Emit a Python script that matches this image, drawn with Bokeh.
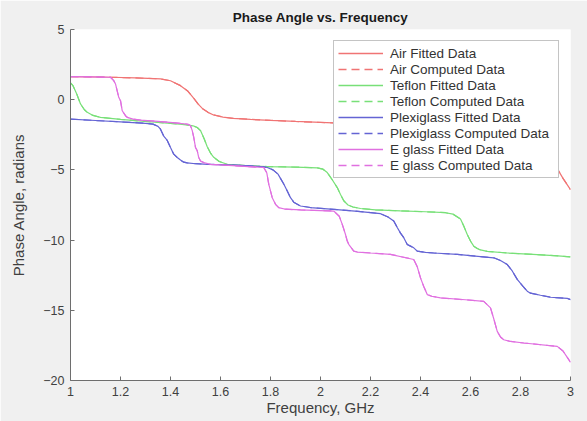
from bokeh.plotting import figure
from bokeh.models import Range1d, FixedTicker, CustomJSTickFormatter, Legend, LegendItem
from bokeh.embed import file_html
from bokeh.resources import INLINE

# ---------------- data ----------------
air_x = [1.0, 1.08, 1.16, 1.26, 1.36, 1.40, 1.44, 1.47, 1.49, 1.51, 1.53, 1.55, 1.57,
         1.61, 1.65, 1.72, 1.80, 1.90, 2.05, 2.2, 2.4, 2.6, 2.8, 2.88, 2.92, 2.95, 2.97, 3.0]
air_y = [1.64, 1.63, 1.6, 1.55, 1.48, 1.35, 1.0, 0.6, 0.17, -0.3, -0.67, -0.9, -1.07,
         -1.24, -1.33, -1.4, -1.47, -1.55, -1.65, -1.72, -1.8, -1.9, -2.1, -2.5, -3.3, -5.0, -5.6, -6.4]

teflon_x = [1.0, 1.01, 1.025, 1.04, 1.055, 1.067, 1.09, 1.12, 1.2, 1.3, 1.4, 1.46, 1.49,
            1.507, 1.52, 1.535, 1.547, 1.56, 1.573, 1.595, 1.627, 1.7, 1.787, 1.9, 1.987,
            2.01, 2.027, 2.047, 2.067, 2.08, 2.093, 2.11, 2.13, 2.16, 2.22, 2.32, 2.42,
            2.5, 2.53, 2.56, 2.573, 2.587, 2.6, 2.613, 2.627, 2.64, 2.667, 2.747, 2.85, 2.95, 3.0]
teflon_y = [1.2, 1.0, 0.4, -0.3, -0.7, -0.9, -1.12, -1.26, -1.4, -1.55, -1.68, -1.78, -1.86,
            -1.98, -2.2, -2.8, -3.35, -3.8, -4.1, -4.4, -4.6, -4.7, -4.76, -4.8, -4.85,
            -4.95, -5.19, -5.7, -6.26, -6.75, -7.2, -7.5, -7.64, -7.75, -7.85, -7.92, -7.98,
            -8.05, -8.15, -8.5, -9.0, -9.6, -10.07, -10.43, -10.6, -10.7, -10.8, -10.92, -11.02, -11.12, -11.2]

plexi_x = [1.0, 1.1, 1.2, 1.3, 1.33, 1.35, 1.36, 1.373, 1.387, 1.4, 1.413, 1.427, 1.44,
           1.453, 1.467, 1.5, 1.55, 1.627, 1.7, 1.76, 1.787, 1.81, 1.83, 1.853, 1.867, 1.88,
           1.893, 1.92, 1.96, 2.053, 2.15, 2.24, 2.27, 2.293, 2.307, 2.32, 2.333, 2.347,
           2.36, 2.373, 2.387, 2.42, 2.453, 2.547, 2.693, 2.72, 2.747, 2.767, 2.787, 2.81,
           2.827, 2.84, 2.88, 2.92, 2.987, 3.0]
plexi_y = [-1.38, -1.48, -1.58, -1.68, -1.74, -1.9, -2.1, -2.6, -2.9, -3.4, -3.88, -4.12, -4.3,
           -4.45, -4.5, -4.56, -4.6, -4.64, -4.7, -4.76, -4.83, -5.0, -5.3, -6.0, -6.5, -6.98,
           -7.3, -7.57, -7.68, -7.81, -7.95, -8.12, -8.35, -8.64, -9.1, -9.5, -9.83, -10.31,
           -10.43, -10.55, -10.79, -10.88, -10.92, -11.02, -11.26, -11.45, -11.74, -12.2, -12.8, -13.3,
           -13.64, -13.78, -13.93, -14.07, -14.15, -14.24]

eglass_x = [1.0, 1.08, 1.16, 1.173, 1.18, 1.193, 1.2, 1.207, 1.22, 1.227, 1.25, 1.28, 1.35,
            1.42, 1.47, 1.48, 1.487, 1.493, 1.5, 1.507, 1.513, 1.52, 1.533, 1.56, 1.65, 1.773,
            1.785, 1.793, 1.807, 1.82, 1.833, 1.86, 1.92, 2.053, 2.075, 2.087, 2.1, 2.107,
            2.113, 2.133, 2.147, 2.2, 2.28, 2.373, 2.387, 2.4, 2.413, 2.427, 2.445, 2.48, 2.58,
            2.653, 2.68, 2.693, 2.707, 2.72, 2.733, 2.76, 2.813, 2.947, 2.97, 2.985, 3.0]
eglass_y = [1.64, 1.63, 1.6, 1.36, 1.12, 0.17, -0.07, -0.79, -1.14, -1.26, -1.38, -1.45, -1.55,
            -1.65, -1.75, -1.86, -2.2, -2.69, -3.4, -3.64, -4.12, -4.36, -4.48, -4.6, -4.7, -4.83,
            -5.2, -6.02, -6.98, -7.45, -7.69, -7.8, -7.85, -7.93, -8.3, -8.88, -9.6, -10.07,
            -10.3, -10.79, -10.85, -10.92, -11.02, -11.38, -11.9, -12.69, -13.3, -13.88, -14.0, -14.12, -14.25,
            -14.36, -14.83, -15.6, -16.5, -16.9, -17.1, -17.22, -17.33, -17.57, -17.9, -18.3, -18.7]

materials = ["Air", "Teflon", "Plexiglass", "E glass"]
series_x = [air_x, teflon_x, plexi_x, eglass_x]
series_y = [air_y, teflon_y, plexi_y, eglass_y]
colors = ["#f07474", "#78e078", "#6464d4", "#e070e0"]

x_ticks = [1.0, 1.2, 1.4, 1.6, 1.8, 2.0, 2.2, 2.4, 2.6, 2.8, 3.0]
y_ticks = [5, 0, -5, -10, -15, -20]

# ---------------- figure ----------------
FONT = "Liberation Sans"
p = figure(width=587, height=421, output_backend="svg", toolbar_location=None,
           x_range=Range1d(1, 3), y_range=Range1d(-20, 5),
           background_fill_color="white", border_fill_color="#f0f0f0",
           min_border_left=70, min_border_right=17, min_border_top=29, min_border_bottom=41,
           title="Phase Angle vs. Frequency")
p.outline_line_color = None
p.grid.visible = False

p.title.align = "center"
p.title.text_font = FONT
p.title.text_font_size = "13.5px"
p.title.text_font_style = "bold"
p.title.text_color = "#1a1a1a"

for ax in (p.xaxis[0], p.yaxis[0]):
    ax.axis_line_color = "#6e6e6e"
    ax.major_tick_line_color = "#6e6e6e"
    ax.major_tick_in = 4
    ax.major_tick_out = 0
    ax.minor_tick_line_color = None
    ax.major_label_text_font = FONT
    ax.major_label_text_font_size = "12.5px"
    ax.major_label_text_color = "#404040"
    ax.axis_label_text_font = FONT
    ax.axis_label_text_font_size = "15px"
    ax.axis_label_text_font_style = "normal"
    ax.axis_label_text_color = "#404040"

p.xaxis.ticker = FixedTicker(ticks=x_ticks)
p.yaxis.ticker = FixedTicker(ticks=y_ticks)
p.xaxis.formatter = CustomJSTickFormatter(code="return tick.toFixed(1).replace(/\\.0$/, '');")
p.xaxis.axis_label = "Frequency, GHz"
p.yaxis.axis_label = "Phase Angle, radians"
p.xaxis.major_label_standoff = 6
p.xaxis.axis_label_standoff = 0
p.yaxis.major_label_standoff = 6
p.yaxis.axis_label_standoff = 13

items = []
for name, xs, ys, c in zip(materials, series_x, series_y, colors):
    p.line(xs, ys, line_color=c, line_width=1.2)
    p.line(xs, ys, line_color=c, line_width=1.2, line_dash="8 5")
    # proxy renderers used only for the legend swatches
    k_fit = p.line([xs[0]], [ys[0]], line_color=c, line_alpha=1.0, line_width=1.3)
    k_cmp = p.line([xs[0]], [ys[0]], line_color=c, line_alpha=1.0, line_width=1.3, line_dash="8 5")
    items.append(LegendItem(label=name + " Fitted Data", renderers=[k_fit]))
    items.append(LegendItem(label=name + " Computed Data", renderers=[k_cmp]))

legend = Legend(items=items, location="top_right")
legend.margin = 11
legend.padding = 4
legend.spacing = 0
legend.glyph_width = 45
legend.glyph_height = 16
legend.label_height = 16
legend.label_width = 164
legend.label_standoff = 7
legend.label_text_font = FONT
legend.label_text_font_size = "13.5px"
legend.label_text_color = "#333333"
legend.border_line_color = "#8a8a8a"
legend.border_line_width = 1
legend.background_fill_color = "white"
legend.background_fill_alpha = 1.0
p.add_layout(legend)

open("out.html", "w").write(file_html(p, INLINE))
